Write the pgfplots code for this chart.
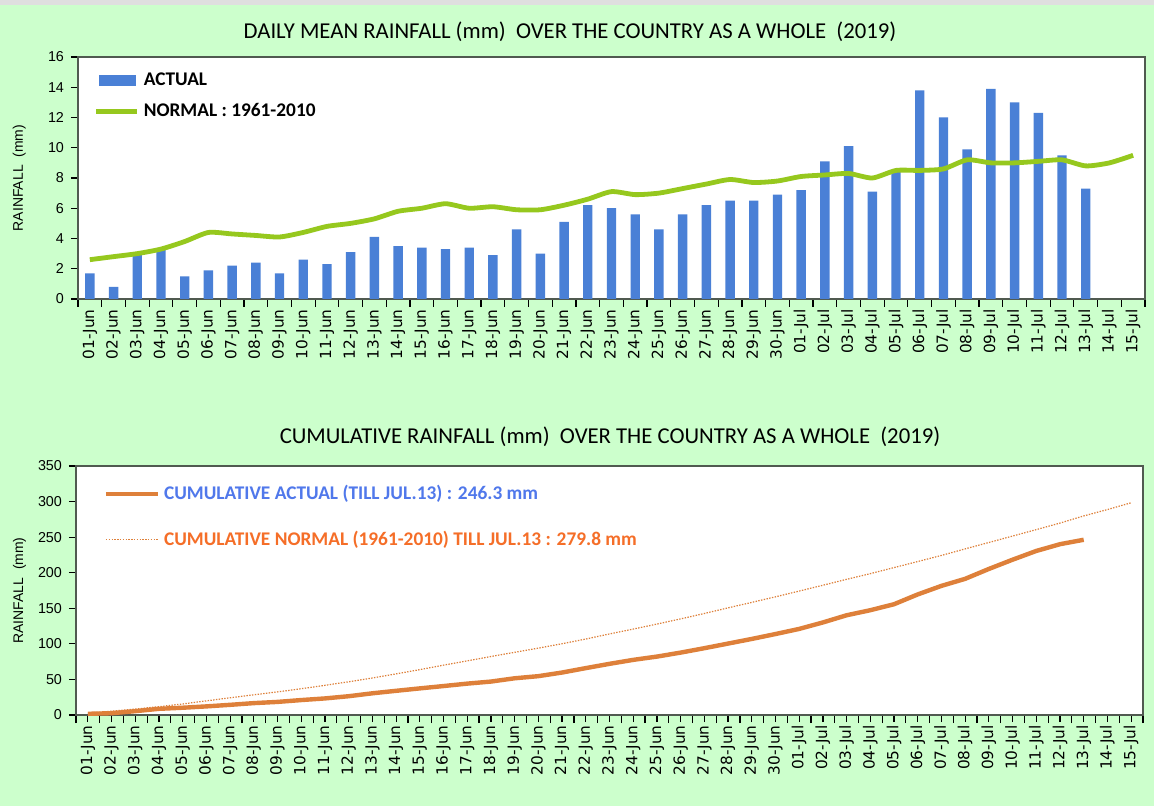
\documentclass[border=0pt]{standalone}
\usepackage{pgfplots}
\pgfplotsset{compat=1.18}
\usepackage{pgfplotstable}
\usepackage{fontspec}
\setmainfont{Carlito}
\newfontfamily\arialf{Liberation Sans}
\newfontfamily\dejavu{DejaVu Sans}
\definecolor{bggreen}{RGB}{204,255,204}
\definecolor{barblue}{RGB}{74,128,214}
\definecolor{greenline}{RGB}{150,200,30}
\definecolor{orangeline}{RGB}{222,128,58}
\definecolor{legblue}{RGB}{80,120,235}
\definecolor{legorange}{RGB}{245,110,40}
\definecolor{axisgray}{RGB}{80,90,80}

\pgfplotstableread{
x actual normal cumact cumnorm
0 1.7 2.6 1.7 2.6
1 0.8 2.8 2.5 5.4
2 2.9 3.0 5.4 8.4
3 3.3 3.3 8.7 11.7
4 1.5 3.8 10.2 15.5
5 1.9 4.4 12.1 19.9
6 2.2 4.3 14.3 24.2
7 2.4 4.2 16.7 28.4
8 1.7 4.1 18.4 32.5
9 2.6 4.4 21.0 36.9
10 2.3 4.8 23.3 41.7
11 3.1 5.0 26.4 46.7
12 4.1 5.3 30.5 52.0
13 3.5 5.8 34.0 57.8
14 3.4 6.0 37.4 63.8
15 3.3 6.3 40.7 70.1
16 3.4 6.0 44.1 76.1
17 2.9 6.1 47.0 82.2
18 4.6 5.9 51.6 88.1
19 3.0 5.9 54.6 94.0
20 5.1 6.2 59.7 100.2
21 6.2 6.6 65.9 106.8
22 6.0 7.1 71.9 113.9
23 5.6 6.9 77.5 120.8
24 4.6 7.0 82.1 127.8
25 5.6 7.3 87.7 135.1
26 6.2 7.6 93.9 142.7
27 6.5 7.9 100.4 150.6
28 6.5 7.7 106.9 158.3
29 6.9 7.8 113.8 166.1
30 7.2 8.1 121.0 174.2
31 9.1 8.2 130.1 182.4
32 10.1 8.3 140.2 190.7
33 7.1 8.0 147.3 198.7
34 8.4 8.5 155.7 207.2
35 13.8 8.5 169.5 215.7
36 12.0 8.6 181.5 224.3
37 9.9 9.2 191.4 233.5
38 13.9 9.0 205.3 242.5
39 13.0 9.0 218.3 251.5
40 12.3 9.1 230.6 260.6
41 9.5 9.2 240.1 269.8
42 7.3 8.8 246.3 279.8
43 nan 9.0 nan 288.8
44 nan 9.5 nan 298.3
}\data

\pgfplotsset{common/.style={
  scale only axis,
  width=533.5bp,
  xmin=-0.5, xmax=44.5,
  xtick={0,...,44},
  xticklabels={01-Jun,02-Jun,03-Jun,04-Jun,05-Jun,06-Jun,07-Jun,08-Jun,09-Jun,10-Jun,11-Jun,12-Jun,13-Jun,14-Jun,15-Jun,16-Jun,17-Jun,18-Jun,19-Jun,20-Jun,21-Jun,22-Jun,23-Jun,24-Jun,25-Jun,26-Jun,27-Jun,28-Jun,29-Jun,30-Jun,01-Jul,02-Jul,03-Jul,04-Jul,05-Jul,06-Jul,07-Jul,08-Jul,09-Jul,10-Jul,11-Jul,12-Jul,13-Jul,14-Jul,15-Jul},
  minor xtick={-0.5,0.5,...,44.5},
  minor tick length=4bp,
  major tick length=3.5bp,
  tick align=outside,
  tick pos=left,
  tick style={black, line width=0.6bp},
  x tick label style={rotate=90, anchor=east, font=\dejavu\fontsize{7.7}{8}\selectfont, inner sep=1.5bp},
  y tick label style={font=\arialf\fontsize{7.2}{8}\selectfont},
  /pgf/number format/assume math mode=true,
  axis background/.style={fill=white},
  axis line style={axisgray, line width=0.8bp},
  ylabel style={font=\arialf\fontsize{7}{8}\selectfont, anchor=center},
  unbounded coords=jump,
  clip=false,
}}

\begin{document}
\begin{tikzpicture}
\useasboundingbox (0bp,0bp) rectangle (577bp,403bp);
\fill[bggreen] (0bp,0bp) rectangle (577bp,403bp);
\fill[gray!25] (0bp,400.5bp) rectangle (577bp,403bp);

\node[font=\fontsize{11.4}{13}\selectfont] at (285bp,387bp) {DAILY MEAN RAINFALL (mm)\ \ OVER THE COUNTRY AS A WHOLE\ \ (2019)};
\node[font=\fontsize{11.4}{13}\selectfont] at (305bp,184.5bp) {CUMULATIVE RAINFALL (mm)\ \ OVER THE COUNTRY AS A WHOLE\ \ (2019)};

\begin{axis}[common,
  at={(39bp,253.5bp)}, anchor=south west,
  height=121bp,
  major x tick style={draw=none},
  ymin=0, ymax=16, ytick={0,2,...,16},
  ylabel={RAINFALL\ \ (mm)},
  ylabel style={at={(axis description cs:-0.055,0.5)}},
  legend style={draw=none, fill=none, at={(axis description cs:0.009,0.97)}, anchor=north west,
    font=\bfseries\fontsize{9.7}{11}\selectfont, row sep=3.5bp, legend cell align=left,
    /tikz/every even column/.append style={column sep=1bp}},
]
\addplot[ybar, bar width=4.7bp, fill=barblue, draw=none,
  legend image code/.code={\fill[barblue] (0bp,-2.8bp) rectangle (18.5bp,2.8bp);}]
  table[x=x, y=actual]{\data};
\addlegendentry{ACTUAL}
\addplot[greenline, line width=2.4bp, smooth, tension=0.4, no marks,
  legend image code/.code={\draw[greenline, line width=2.4bp] (-1.5bp,0) -- (19bp,0);}]
  table[x=x, y=normal]{\data};
\addlegendentry{NORMAL : 1961-2010}
\end{axis}

\begin{axis}[common,
  at={(38bp,45.5bp)}, anchor=south west,
  height=124.5bp,
  ymin=0, ymax=350, ytick={0,50,...,350},
  ylabel={RAINFALL\ \ (mm)},
  ylabel style={at={(axis description cs:-0.053,0.5)}},
  legend style={draw=none, fill=none, at={(axis description cs:0.02,0.955)}, anchor=north west,
    font=\bfseries\fontsize{9.7}{12}\selectfont, row sep=10bp, legend cell align=left},
]
\addplot[orangeline, line width=2.2bp, no marks,
  legend image code/.code={\draw[orangeline, line width=2.2bp] (0bp,0) -- (26bp,0);}]
  table[x=x, y=cumact]{\data};
\addlegendentry{\textcolor{legblue}{CUMULATIVE ACTUAL (TILL JUL.13) : 246.3 mm}}
\addplot[orangeline, line width=0.6bp, dash pattern=on 0.7bp off 0.7bp, no marks,
  legend image code/.code={\draw[orangeline, line width=0.6bp, dash pattern=on 0.7bp off 0.7bp] (0bp,0) -- (26bp,0);}]
  table[x=x, y=cumnorm]{\data};
\addlegendentry{\textcolor{legorange}{CUMULATIVE NORMAL (1961-2010) TILL JUL.13 : 279.8 mm}}
\end{axis}
\end{tikzpicture}
\end{document}
